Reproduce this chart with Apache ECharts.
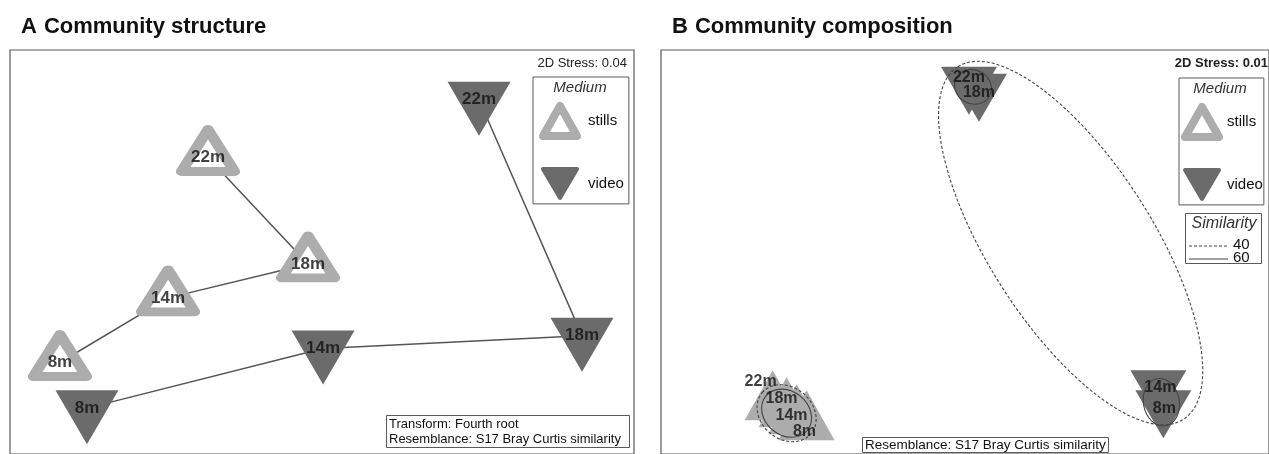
<!DOCTYPE html>
<html>
<head>
<meta charset="utf-8">
<script src="https://cdn.jsdelivr.net/npm/echarts@6/dist/echarts.min.js"></script>
<style>
  html, body { margin: 0; padding: 0; background: #fff; }
  #chart { width: 1269px; height: 454px; }
</style>
</head>
<body>
<div id="chart"></div>
<script>
// Sample depths, in the order the points are joined
const depths = ['22m', '18m', '14m', '8m'];

// A: community structure - nMDS ordination (fourth-root transform, Bray-Curtis)
const structStillsX = [-0.548, -0.067, -0.740, -1.260];
const structStillsY = [0.468, -0.059, -0.227, -0.547];
const structVideoX = [0.755, 1.250, 0.005, -1.130];
const structVideoY = [0.754, -0.414, -0.478, -0.773];
const structStress = 0.04;

// B: community composition - nMDS ordination (Bray-Curtis)
const compStillsX = [-0.965, -0.895, -0.845, -0.795];
const compStillsY = [-0.760, -0.795, -0.830, -0.860];
const compVideoX = [0.020, 0.070, 0.970, 0.995];
const compVideoY = [0.850, 0.815, -0.675, -0.775];
const compStress = 0.01;

// Cluster similarity contours on B: centre, semi-axes (ordination units), tilt in degrees, level in %
const contourX = [0.530, -0.895, -0.895, 0.040, 0.985];
const contourY = [0.045, -0.810, -0.810, 0.830, -0.755];
const contourMajor = [1.050, 0.160, 0.135, 0.095, 0.120];
const contourMinor = [0.410, 0.130, 0.110, 0.085, 0.090];
const contourTilt = [-57.4, -40, -40, -30, -80];
const contourLevel = [40, 40, 60, 60, 60];
const similarityLevels = [40, 60];

// ---------------------------------------------------------------------------
const FONT = '"Liberation Sans", Arial, Helvetica, sans-serif';
const STILLS = '#acacac';
const VIDEO = '#6b6b6b';
const INK = '#111';
const FRAME = '#5a5a5a';
const LINK = '#555';
const DOWN = 'path://M0,0L2,0L1,1.7Z';
const dashFor = lvl => (lvl === 40 ? [3, 2] : null);

const pts = (xs, ys) => xs.map((x, i) => [x, ys[i], depths[i]]);

// label nudges for crowded points in B (pixels)
const nudgeStillsB = [[-12, -22], [-5, -12], [-5, -2], [-2, 8]];
const nudgeVideoB = [[0, -5], [0, 3], [2, 1], [1, 2]];

function labelLayer(name, data, axis, size, nudges) {
  return {
    name, type: 'scatter', xAxisIndex: axis, yAxisIndex: axis, z: 6, silent: true,
    symbolSize: 1, itemStyle: { color: 'rgba(0,0,0,0)' },
    data: data.map((d, i) => ({
      value: d,
      label: nudges ? { offset: nudges[i] } : undefined
    })),
    label: {
      show: true, position: 'inside', formatter: p => p.value[2],
      fontFamily: FONT, fontSize: size, fontWeight: 'bold', color: INK
    }
  };
}

const sA = pts(structStillsX, structStillsY);
const vA = pts(structVideoX, structVideoY);
const sB = pts(compStillsX, compStillsY);
const vB = pts(compVideoX, compVideoY);

const contours = contourX.map((x, i) =>
  [x, contourY[i], contourMajor[i], contourMinor[i], contourTilt[i], contourLevel[i]]);

function medLegend(left, top, padding, textPad) {
  return {
    left, top, padding,
    orient: 'vertical', selectedMode: false, borderColor: FRAME, borderWidth: 1,
    itemWidth: 34, itemHeight: 30, itemGap: 27,
    textStyle: { fontFamily: FONT, fontSize: 15, color: INK, padding: [0, 0, 0, textPad] },
    data: [
      { name: 'stills', icon: 'triangle',
        itemStyle: { color: '#fff', borderColor: STILLS, borderWidth: 8, borderJoin: 'round' } },
      { name: 'video', icon: DOWN,
        itemStyle: { color: VIDEO, borderColor: VIDEO, borderWidth: 4, borderJoin: 'round' } }
    ]
  };
}

const option = {
  animation: false,
  backgroundColor: '#fff',
  title: [
    { text: '{n|A} {b|Community structure}', left: 16, top: 11,
      textStyle: { rich: {
        n: { fontFamily: FONT, fontSize: 22, color: INK, padding: [0, 2, 0, 0] },
        b: { fontFamily: FONT, fontSize: 22, fontWeight: 'bold', color: INK } } } },
    { text: '{n|B} {b|Community composition}', left: 667, top: 11,
      textStyle: { rich: {
        n: { fontFamily: FONT, fontSize: 22, color: INK, padding: [0, 2, 0, 0] },
        b: { fontFamily: FONT, fontSize: 22, fontWeight: 'bold', color: INK } } } }
  ],
  legend: [
    medLegend(533, 77, [25, 5, 4, 6], 6),
    medLegend(1179, 78, [25, 1, 4, 2], 3)
  ],
  grid: [
    { left: 10, top: 50, width: 624, height: 406, show: true, borderColor: FRAME, borderWidth: 1.2 },
    { left: 661, top: 50, width: 610, height: 406, show: true, borderColor: FRAME, borderWidth: 1.2 }
  ],
  xAxis: [
    { gridIndex: 0, type: 'value', min: -1.5, max: 1.5, show: false },
    { gridIndex: 1, type: 'value', min: -1.525, max: 1.525, show: false }
  ],
  yAxis: [
    { gridIndex: 0, type: 'value', min: -1, max: 1, show: false },
    { gridIndex: 1, type: 'value', min: -1.015, max: 1.015, show: false }
  ],
  series: [
    // A - depth trajectories
    { name: 'stills path', type: 'line', xAxisIndex: 0, yAxisIndex: 0, z: 1, silent: true,
      symbol: 'none', data: sA, lineStyle: { color: LINK, width: 1.5 } },
    { name: 'video path', type: 'line', xAxisIndex: 0, yAxisIndex: 0, z: 1, silent: true,
      symbol: 'none', data: vA, lineStyle: { color: LINK, width: 1.5 } },
    // A - samples
    { name: 'stills', type: 'scatter', xAxisIndex: 0, yAxisIndex: 0, z: 2, silent: true,
      symbol: 'triangle', symbolSize: [53, 42], symbolOffset: [0, -7], data: sA,
      itemStyle: { color: '#fff', borderColor: STILLS, borderWidth: 10, borderJoin: 'round', opacity: 1 } },
    { name: 'video', type: 'scatter', xAxisIndex: 0, yAxisIndex: 0, z: 2, silent: true,
      symbol: DOWN, symbolSize: [63, 54], symbolOffset: [0, 9], data: vA,
      itemStyle: { color: VIDEO, opacity: 1 } },
    labelLayer('labels A', sA.concat(vA), 0, 17, null),

    // B - samples
    { name: 'stills', type: 'scatter', xAxisIndex: 1, yAxisIndex: 1, z: 2, silent: true,
      symbol: 'triangle', symbolSize: [56, 50], symbolOffset: [0, -8], data: sB,
      itemStyle: { color: STILLS, opacity: 1 } },
    { name: 'video', type: 'scatter', xAxisIndex: 1, yAxisIndex: 1, z: 2, silent: true,
      symbol: DOWN, symbolSize: [56, 48], symbolOffset: [0, 8], data: vB,
      itemStyle: { color: VIDEO, opacity: 1 } },
    // B - similarity contours
    { name: 'similarity', type: 'custom', xAxisIndex: 1, yAxisIndex: 1, z: 4, silent: true,
      data: contours, encode: { x: 0, y: 1 },
      renderItem: (params, api) => {
        const c = api.coord([api.value(0), api.value(1)]);
        const rx = api.size([api.value(2), 0])[0];
        const ry = api.size([0, api.value(3)])[1];
        return {
          type: 'ellipse', x: c[0], y: c[1], rotation: api.value(4) * Math.PI / 180,
          shape: { cx: 0, cy: 0, rx: rx, ry: ry },
          style: { fill: 'none', stroke: '#444', lineWidth: 1.1, lineDash: dashFor(api.value(5)) }
        };
      } },
    labelLayer('labels B', sB.concat(vB), 1, 16, nudgeStillsB.concat(nudgeVideoB))
  ],
  graphic: [
    // stress values
    { type: 'text', x: 627, y: 63, z: 10,
      style: { text: '2D Stress: ' + structStress.toFixed(2), font: '13px ' + FONT, fill: '#222',
               align: 'right', verticalAlign: 'middle' } },
    { type: 'text', x: 1268, y: 63, z: 10,
      style: { text: '2D Stress: ' + compStress.toFixed(2), font: 'bold 13px ' + FONT, fill: '#222',
               align: 'right', verticalAlign: 'middle' } },
    // legend headings
    { type: 'text', x: 580, y: 88, z: 10,
      style: { text: 'Medium', font: 'italic 15px ' + FONT, fill: '#333', align: 'center', verticalAlign: 'middle' } },
    { type: 'text', x: 1220, y: 89, z: 10,
      style: { text: 'Medium', font: 'italic 15px ' + FONT, fill: '#333', align: 'center', verticalAlign: 'middle' } },
    // analysis notes
    { type: 'rect', z: 10, shape: { x: 386.5, y: 415.5, width: 243, height: 32 },
      style: { fill: '#fff', stroke: FRAME, lineWidth: 1 } },
    { type: 'text', x: 389, y: 417, z: 11,
      style: { text: 'Transform: Fourth root\nResemblance: S17 Bray Curtis similarity',
               font: '13px ' + FONT, fill: INK, lineHeight: 15 } },
    { type: 'rect', z: 10, shape: { x: 862.5, y: 437.5, width: 246, height: 15 },
      style: { fill: '#fff', stroke: FRAME, lineWidth: 1 } },
    { type: 'text', x: 865, y: 445.5, z: 11,
      style: { text: 'Resemblance: S17 Bray Curtis similarity',
               font: '13.5px ' + FONT, fill: INK, verticalAlign: 'middle' } },
    // similarity key
    { type: 'rect', z: 10, shape: { x: 1185.5, y: 213.5, width: 76, height: 50 },
      style: { fill: '#fff', stroke: FRAME, lineWidth: 1 } },
    { type: 'text', x: 1224, y: 224, z: 11,
      style: { text: 'Similarity', font: 'italic 16px ' + FONT, fill: '#333', align: 'center', verticalAlign: 'middle' } }
  ].concat(similarityLevels.flatMap((lvl, i) => [
    { type: 'line', z: 11, shape: { x1: 1189, y1: 246 + i * 13, x2: 1228, y2: 246 + i * 13 },
      style: { stroke: '#444', lineWidth: 1, lineDash: dashFor(lvl) } },
    { type: 'text', x: 1233, y: 245 + i * 13, z: 11,
      style: { text: String(lvl), font: '15px ' + FONT, fill: INK, verticalAlign: 'middle' } }
  ]))
};

const chart = echarts.init(document.getElementById('chart'), null, { renderer: 'canvas' });
chart.setOption(option);
</script>
</body>
</html>
